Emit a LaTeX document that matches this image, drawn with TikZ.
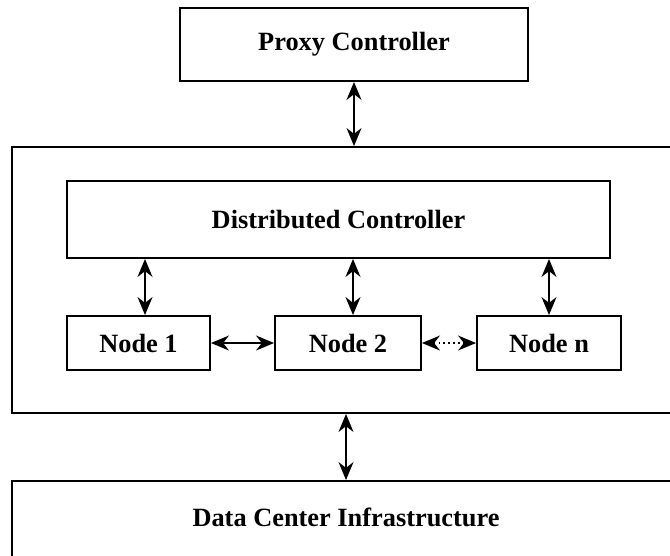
\documentclass[tikz,border=0pt]{standalone}
\usepackage{fontspec}
\setmainfont{Liberation Serif}
\usetikzlibrary{arrows.meta,positioning}

\begin{document}
\begin{tikzpicture}
      \clip (0,0) rectangle (13.4,-11.1);
      \begin{scope}[every node/.style={draw,rectangle,line width=1.1pt,inner sep=0pt,
          font=\fontsize{15}{18}\selectfont\bfseries}]
        \node (outer) [minimum width=13.36cm,minimum height=5.32cm] at (6.92,-5.6) {};
        \node (proxy) [minimum width=6.96cm,minimum height=1.46cm] at (7.08,-0.89) {Proxy Controller};
        \node (dist) [minimum width=10.86cm,minimum height=1.54cm] at (6.77,-4.39) {Distributed Controller};
        \node (n1) [minimum width=2.86cm,minimum height=1.08cm] at (2.77,-6.86) {Node 1};
        \node (n2) [minimum width=2.92cm,minimum height=1.08cm] at (6.96,-6.86) {Node 2};
        \node (nn) [minimum width=2.88cm,minimum height=1.08cm] at (10.98,-6.86) {Node n};
        \node (infra) [minimum width=13.36cm,minimum height=1.9cm] at (6.92,-10.57) {\raisebox{0.45cm}{Data Center Infrastructure}};
      \end{scope}
      \begin{scope}
        [every edge/.style={draw=black,line width=0.8pt,{Stealth[length=3.6mm,width=3mm]}-{Stealth[length=3.6mm,width=3mm]}}]
        \path (proxy.south) edge (proxy.south |- outer.north);
        \path ([xshift=0.13cm]n1.north |- dist.south) edge ([xshift=0.13cm]n1.north);
        \path ([xshift=0.1cm]n2.north |- dist.south) edge ([xshift=0.1cm]n2.north);
        \path (nn.north |- dist.south) edge (nn.north);
        \path (n1.east) edge (n2.west);
        \path (n2.east) edge[dotted] (nn.west);
        \path (infra.north |- outer.south) edge (infra.north);
      \end{scope}
    \end{tikzpicture}
\end{document}
